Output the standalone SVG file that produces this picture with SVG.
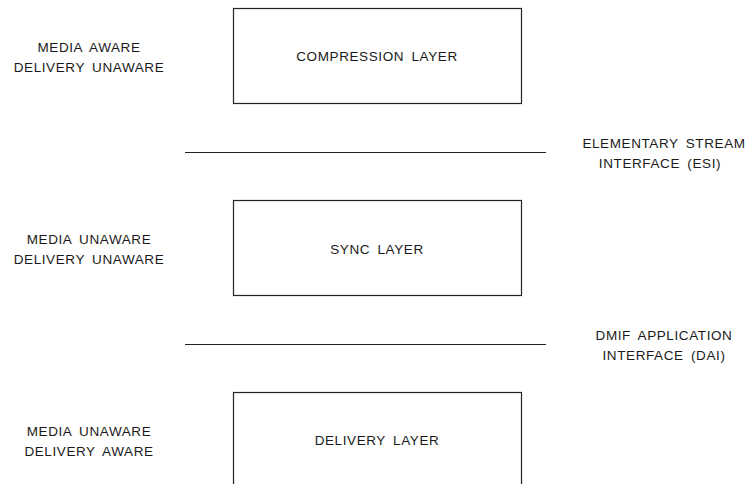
<svg xmlns="http://www.w3.org/2000/svg" width="749" height="484" viewBox="0 0 749 484">
<style>
text{font-family:"Liberation Sans",Arial,sans-serif;font-size:13.5px;fill:#1a1a1a;text-anchor:middle;letter-spacing:0.6px;word-spacing:3px}
.box{fill:#fff;stroke:#222;stroke-width:1.2}
.ln{stroke:#222;stroke-width:1.2;fill:none}
</style>
<rect width="749" height="484" fill="#fff"/>
<g id="compression-layer">
<rect class="box" x="233.5" y="8.5" width="288" height="95"/>
<text x="377" y="61">COMPRESSION LAYER</text>
</g>
<g id="sync-layer">
<rect class="box" x="233.5" y="200.5" width="288" height="95"/>
<text x="377" y="254">SYNC LAYER</text>
</g>
<g id="delivery-layer">
<rect class="box" x="233.5" y="392.5" width="288" height="100"/>
<text x="377" y="445">DELIVERY LAYER</text>
</g>
<g id="left-labels">
<text x="89" y="52">MEDIA AWARE</text>
<text x="89" y="72">DELIVERY UNAWARE</text>
<text x="89" y="244">MEDIA UNAWARE</text>
<text x="89" y="264">DELIVERY UNAWARE</text>
<text x="89" y="436">MEDIA UNAWARE</text>
<text x="89" y="456">DELIVERY AWARE</text>
</g>
<g id="connectors">
<line class="ln" x1="185" y1="152.5" x2="546" y2="152.5"/>
<line class="ln" x1="185" y1="344.5" x2="546" y2="344.5"/>
</g>
<g id="esi">
<text x="664" y="148">ELEMENTARY STREAM</text>
<text x="660" y="168">INTERFACE (ESI)</text>
</g>
<g id="dai">
<text x="664" y="340">DMIF APPLICATION</text>
<text x="664" y="360">INTERFACE (DAI)</text>
</g>
</svg>
